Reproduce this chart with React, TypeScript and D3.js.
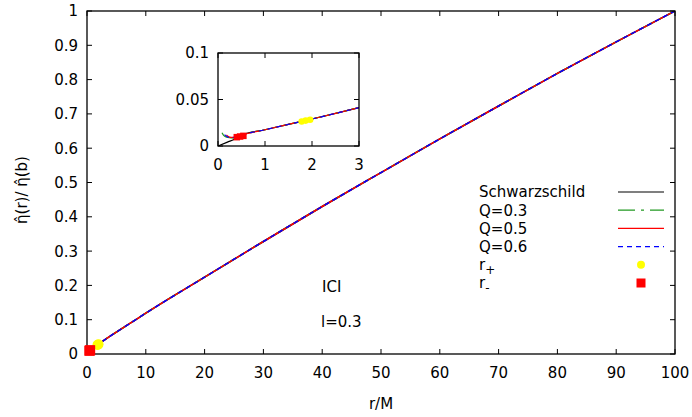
import React from 'react';
import * as d3 from "d3";

// shared part of all curves: [r/M, ratio]
const curveTail: [number, number][] = [
    [0.5, 0.0115], [1, 0.0175], [2, 0.029], [3, 0.0412], [5, 0.064], [7.3, 0.089],
    [10, 0.119], [20, 0.224], [30, 0.328], [40, 0.43], [50, 0.529], [60, 0.627],
    [70, 0.723], [80, 0.818], [90, 0.91], [100, 1]
]
// the beginnings of each curve (inset)
const schwStart: [number, number][] = [[0, 0], [0.2, 0.0042], [0.36, 0.0075]]
const q03Start: [number, number][] = [[0.085, 0.0143], [0.12, 0.0115], [0.18, 0.0095], [0.36, 0.0085]]
const q05Start: [number, number][] = [[0.18, 0.0118], [0.22, 0.0102], [0.28, 0.0093], [0.4, 0.0095]]
const q06Start: [number, number][] = [[0.14, 0.0122], [0.18, 0.0105], [0.25, 0.0092], [0.4, 0.0095]]

const rPlus: [number, number][] = [[1.78, 0.0263], [1.866, 0.0273], [1.96, 0.0282]]
const rMinus: [number, number][] = [[0.4, 0.0095], [0.47, 0.0102], [0.54, 0.0109]]

const series = [
    { name: "Schwarzschild", start: schwStart, color: "#000000", dash: "" },
    { name: "Q=0.3", start: q03Start, color: "#229922", dash: "17,6,3,6" },
    { name: "Q=0.5", start: q05Start, color: "#ff0000", dash: "" },
    { name: "Q=0.6", start: q06Start, color: "#0000ff", dash: "5,4" },
]

const xTicks = [0, 10, 20, 30, 40, 50, 60, 70, 80, 90, 100]
const yTicks = [0, 0.1, 0.2, 0.3, 0.4, 0.5, 0.6, 0.7, 0.8, 0.9, 1]
const insetXTicks = [0, 1, 2, 3]
const insetYTicks = [0, 0.05, 0.1]

const font = "DejaVu Sans"
const fs = 15

const Panel = ({ x, y, xt, yt, id, big }: any) => {
    const [x0, x1] = x.range()
    const [y1, y0] = y.range()
    const line = d3.line<[number, number]>().x(d => x(d[0])).y(d => y(d[1])).curve(d3.curveMonotoneX)
    const tick = 5
    const fmt = (v: number) => String(v)
    const ms = big ? 10 : 6.5
    const mr = big ? 5 : 3.3
    return (
        <g>
            <defs>
                <clipPath id={id}><rect x={x0} y={y0} width={x1 - x0} height={y1 - y0} /></clipPath>
            </defs>
            <rect x={x0} y={y0} width={x1 - x0} height={y1 - y0} fill="white" />
            <g clipPath={`url(#${id})`}>
                {series.map(s =>
                    <path key={s.name} d={line(s.start.concat(curveTail.filter(p => p[0] > s.start[s.start.length - 1][0]))) || ""}
                        fill="none" stroke={s.color} strokeWidth={big ? 1.5 : 1.2} strokeDasharray={s.dash} />)}
            </g>
            {xt.map((t: number) => <g key={"x" + t}>
                <line x1={x(t)} x2={x(t)} y1={y1} y2={y1 - tick} stroke="black" />
                <line x1={x(t)} x2={x(t)} y1={y0} y2={y0 + tick} stroke="black" />
                <text x={x(t)} y={y1 + 24} textAnchor="middle">{fmt(t)}</text>
            </g>)}
            {yt.map((t: number) => <g key={"y" + t}>
                <line x1={x0} x2={x0 + tick} y1={y(t)} y2={y(t)} stroke="black" />
                <line x1={x1} x2={x1 - tick} y1={y(t)} y2={y(t)} stroke="black" />
                <text x={x0 - 9} y={y(t)} dy="0.36em" textAnchor="end">{fmt(t)}</text>
            </g>)}
            <rect x={x0} y={y0} width={x1 - x0} height={y1 - y0} fill="none" stroke="black" strokeWidth={1.3} />
            {rPlus.map((p, i) => <circle key={"p" + i} cx={x(p[0])} cy={y(p[1])} r={mr} fill="#ffff00" />)}
            {rMinus.map((p, i) => <rect key={"m" + i} x={x(p[0]) - ms / 2} y={y(p[1]) - ms / 2} width={ms} height={ms} fill="#ff0000" />)}
        </g>
    )
}

export default function App() {
    const x = d3.scaleLinear().domain([0, 100]).range([87, 675])
    const y = d3.scaleLinear().domain([0, 1]).range([354, 11])
    const ix = d3.scaleLinear().domain([0, 3]).range([218, 359])
    const iy = d3.scaleLinear().domain([0, 0.1]).range([146, 53])
    const legX = 479
    const legY = 192
    const rowH = 18.2
    return (
        <div style={{ position: "fixed", left: 0, top: 0 }}>
            <svg width={692} height={417} fontFamily={font} fontSize={fs} style={{ display: "block", background: "white" }}>
                <Panel x={x} y={y} xt={xTicks} yt={yTicks} id="mainclip" big={true} />
                <Panel x={ix} y={iy} xt={insetXTicks} yt={insetYTicks} id="insetclip" big={false} />
                {series.map((s, i) => <g key={s.name}>
                    <text x={legX} y={legY + i * rowH} dy="0.36em">{s.name}</text>
                    <line x1={618} x2={664} y1={legY + i * rowH} y2={legY + i * rowH} stroke={s.color} strokeWidth={1.2} strokeDasharray={s.dash} />
                </g>)}
                <text x={legX} y={legY + 4 * rowH} dy="0.36em">r<tspan dy="4" fontSize={12}>+</tspan></text>
                <circle cx={641} cy={legY + 4 * rowH} r={4} fill="#ffff00" />
                <text x={legX} y={legY + 5 * rowH} dy="0.36em">r<tspan dy="4" fontSize={12}>-</tspan></text>
                <rect x={641 - 4.5} y={legY + 5 * rowH - 4.5} width={9} height={9} fill="#ff0000" />
                <text x={322} y={292}>ICI</text>
                <text x={321} y={327}>l=0.3</text>
                <text x={381} y={409} textAnchor="middle">r/M</text>
                <text transform="translate(27,190) rotate(-90)" textAnchor="middle">{"η\u0302(r)/ η\u0302(b)"}</text>
            </svg>
        </div>
    )
}
